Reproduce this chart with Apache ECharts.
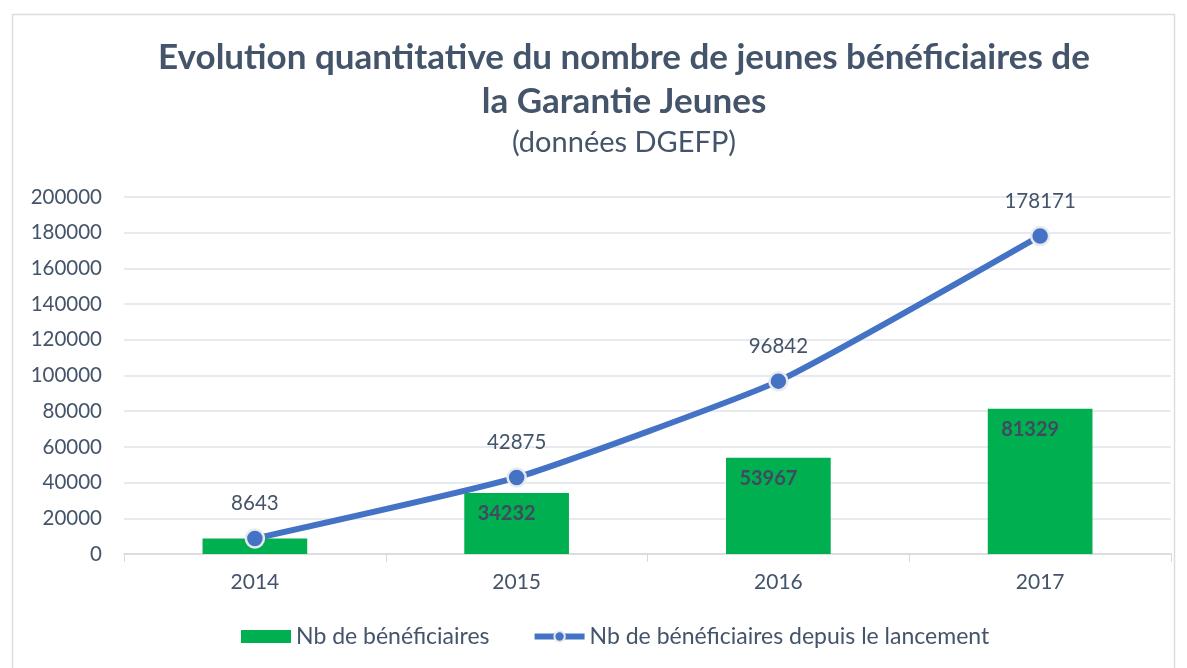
<!DOCTYPE html>
<html>
<head>
<meta charset="utf-8">
<script src="https://cdn.jsdelivr.net/npm/echarts@6/dist/echarts.min.js"></script>
<style>
  html, body { margin: 0; padding: 0; background: #fff; }
  #chart { width: 1187px; height: 668px; }
</style>
</head>
<body>
<div id="chart"></div>
<script>
// données
var years = ['2014', '2015', '2016', '2017'];
var beneficiaires = [8643, 34232, 53967, 81329];
var cumul = [8643, 42875, 96842, 178171];

var textColor = '#44546a';
var chart = echarts.init(document.getElementById('chart'));

chart.setOption({
  textStyle: { fontFamily: 'Lato, "Open Sans", sans-serif' },
  graphic: [{
    type: 'rect',
    shape: { x: 12.5, y: 14.5, width: 1162, height: 680 },
    style: { fill: 'none', stroke: '#d9dde3', lineWidth: 1.5 },
    silent: true
  }],
  title: [{
    text: 'Evolution quantitative du nombre de jeunes bénéficiaires de\nla Garantie Jeunes',
    left: 619,
    textAlign: 'center',
    top: 31,
    textStyle: { color: textColor, fontSize: 35, fontWeight: 'bold', lineHeight: 44 }
  }, {
    text: '(données DGEFP)',
    left: 619,
    textAlign: 'center',
    top: 123,
    textStyle: { color: textColor, fontSize: 29, fontWeight: 'normal' }
  }],
  legend: {
    bottom: 15,
    left: 236,
    itemGap: 42,
    itemWidth: 50,
    itemHeight: 13,
    textStyle: { color: textColor, fontSize: 23 },
    data: [
      { name: 'Nb de bénéficiaires', icon: 'rect' },
      { name: 'Nb de bénéficiaires depuis le lancement', lineStyle: { width: 6 } }
    ]
  },
  grid: { left: 124, right: 16, top: 197, bottom: 114, containLabel: false },
  xAxis: {
    type: 'category',
    data: years,
    boundaryGap: true,
    axisLine: { lineStyle: { color: '#d9d9d9', width: 1.5 } },
    axisTick: { show: true, length: 8, lineStyle: { color: '#d9d9d9' } },
    axisLabel: { color: textColor, fontSize: 21, margin: 18 }
  },
  yAxis: {
    type: 'value',
    min: 0,
    max: 200000,
    interval: 20000,
    axisLine: { show: false },
    axisTick: { show: false },
    splitLine: { lineStyle: { color: '#dfe3e8', width: 1.5 } },
    axisLabel: {
      color: textColor,
      fontSize: 20.5,
      margin: 22,
      formatter: function (v) { return String(v); }
    }
  },
  series: [{
    name: 'Nb de bénéficiaires',
    type: 'bar',
    data: beneficiaires,
    barWidth: '40%',
    itemStyle: { color: '#00b050' },
    label: {
      show: true,
      position: 'insideTop',
      distance: 11,
      offset: [-10, 0],
      color: '#404a60',
      fontSize: 20,
      fontWeight: 'bold',
      formatter: function (p) { return p.value < 20000 ? '' : p.value; }
    },
    z: 2
  }, {
    name: 'Nb de bénéficiaires depuis le lancement',
    type: 'line',
    data: cumul,
    smooth: 0.15,
    symbol: 'circle',
    symbolSize: 18,
    lineStyle: { color: '#4472c4', width: 6 },
    itemStyle: { color: '#4472c4', borderColor: '#e8eaee', borderWidth: 2.5 },
    label: {
      show: true,
      position: 'top',
      distance: 14,
      color: textColor,
      fontSize: 20.5
    },
    z: 3
  }]
});
</script>
</body>
</html>
